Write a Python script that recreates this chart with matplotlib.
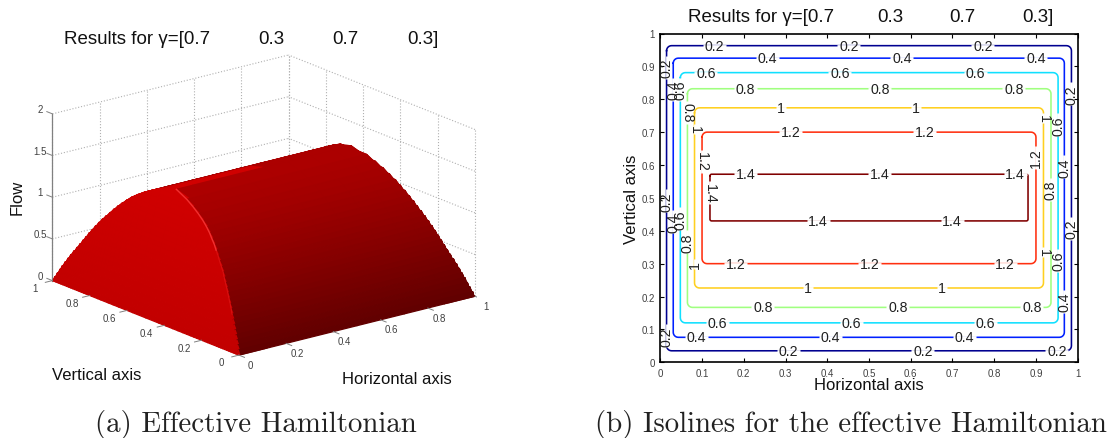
import matplotlib
matplotlib.use('Agg')
import matplotlib.pyplot as plt
import numpy as np
from mpl_toolkits.mplot3d import proj3d

plt.rcParams['font.family'] = ['Liberation Sans', 'DejaVu Sans']

W = 1113
H = 439

# surface profile
height_steps = [0, 0.05, 0.1, 0.15, 0.2, 0.25, 0.3, 0.35, 0.4, 0.45, 0.5, 0.55, 0.6, 0.65, 0.7, 0.75,
                0.8, 0.85, 0.9, 0.95, 1.0, 1.05, 1.1, 1.15, 1.2, 1.25, 1.3, 1.35, 1.4, 1.45]
x_rise = [0, 0.004, 0.008, 0.012, 0.015, 0.019, 0.023, 0.027, 0.031, 0.036, 0.040, 0.044, 0.048, 0.052, 0.056, 0.060,
          0.065, 0.069, 0.073, 0.078, 0.082, 0.087, 0.091, 0.096, 0.100, 0.105, 0.109, 0.114, 0.119, 0.130]
y_rise = [0, 0.008, 0.017, 0.026, 0.035, 0.045, 0.055, 0.065, 0.076, 0.087, 0.098, 0.109, 0.120, 0.131, 0.143, 0.155,
          0.167, 0.181, 0.196, 0.211, 0.226, 0.242, 0.260, 0.279, 0.300, 0.326, 0.355, 0.390, 0.430, 0.500]
x_plateau = [0.2, 0.3, 0.4, 0.5, 0.6, 0.7, 0.8]

x_ticks3d = [0, 0.2, 0.4, 0.6, 0.8, 1]
y_ticks3d = [0, 0.2, 0.4, 0.6, 0.8, 1]
z_ticks3d = [0, 0.5, 1, 1.5, 2]
tick_names3d = ['0', '0.2', '0.4', '0.6', '0.8', '1']
z_names3d = ['0', '0.5', '1', '1.5', '2']

# isolines: level, left, right, bottom, top
levels = [0.2, 0.4, 0.6, 0.8, 1.0, 1.2, 1.4]
level_names = ['0.2', '0.4', '0.6', '0.8', '1', '1.2', '1.4']
left = [0.015, 0.031, 0.048, 0.065, 0.082, 0.100, 0.119]
right = [0.985, 0.968, 0.953, 0.936, 0.918, 0.900, 0.881]
bottom = [0.035, 0.076, 0.120, 0.167, 0.226, 0.300, 0.430]
top = [0.963, 0.925, 0.881, 0.832, 0.774, 0.700, 0.572]
line_colors = ['#000090', '#0020ff', '#10e0ff', '#a0ff80', '#ffd020', '#ff3010', '#800000']
corner_r = [0.012, 0.012, 0.012, 0.012, 0.012, 0.012, 0.004]

# label spots along each side of each isoline, index matches levels
top_labels = [[0.129, 0.452, 0.773], [0.256, 0.579, 0.900], [0.109, 0.430, 0.754], [0.203, 0.526, 0.847],
              [0.289, 0.613], [0.313, 0.634], [0.205, 0.526, 0.850]]
bottom_labels = [[0.306, 0.629, 0.950], [0.086, 0.407, 0.728], [0.136, 0.457, 0.778], [0.246, 0.569, 0.890],
                 [0.354, 0.675], [0.181, 0.502, 0.826], [0.378, 0.699]]
left_labels = [[(0.898, 90), (0.491, 90), (0.080, 90)], [(0.831, 90), (0.427, 90)], [(0.831, 90), (0.436, 90)],
               [(0.761, -90), (0.366, 90)], [(0.710, -90), (0.299, 90)], [(0.612, -90)], [(0.515, -90)]]
right_labels = [[(0.816, 90), (0.408, 90)], [(0.594, 90), (0.186, 90)], [(0.722, 90), (0.311, 90)],
                [(0.527, 90)], [(0.743, -90), (0.335, -90)], [(0.624, 90)], []]

fig = plt.figure(figsize=(W / 100, H / 100), dpi=100)

# ---- left: surface ----
ax3 = fig.add_axes([-0.0184, 0.0171, 0.5, 1.0], projection='3d', proj_type='ortho', computed_zorder=False)
ax3.view_init(elev=18.4, azim=-128.3)
ax3.set_box_aspect((1, 1, 0.584), zoom=1.018)
ax3.set_xlim(0, 1, view_margin=0)
ax3.set_ylim(0, 1, view_margin=0)
ax3.set_zlim(0, 2, view_margin=0)
ax3.set_axis_off()

x_table = np.array(x_rise + x_plateau + [1 - v for v in x_rise[::-1]])
z_x = np.array(height_steps + [height_steps[-1]] * len(x_plateau) + height_steps[::-1])
y_table = np.array(y_rise + [1 - v for v in y_rise[-2::-1]])
z_y = np.array(height_steps + height_steps[-2::-1])
X, Y = np.meshgrid(x_table, y_table)
Z = np.minimum(z_x[None, :], z_y[:, None])

cols = np.zeros(Z.shape + (4,))
cols[..., 3] = 1
nr, nc = Z.shape
for j in range(nr - 1):
    for i in range(nc - 1):
        zm = (Z[j, i] + Z[j + 1, i + 1]) / 2
        if i < nc // 2 and z_x[i] <= z_y[j]:
            r = 0.76 + 0.04 * zm
        else:
            r = 0.38 + 0.30 * zm / 1.45
        cols[j, i, 0] = r

for xv in x_ticks3d:
    ax3.plot([xv, xv], [1, 1], [0, 2], color='#b0b0b0', lw=0.8, ls=':', zorder=1)
for yv in y_ticks3d:
    ax3.plot([1, 1], [yv, yv], [0, 2], color='#b0b0b0', lw=0.8, ls=':', zorder=1)
for zv in z_ticks3d:
    ax3.plot([0, 1], [1, 1], [zv, zv], color='#b0b0b0', lw=0.8, ls=':', zorder=1)
    ax3.plot([1, 1], [0, 1], [zv, zv], color='#b0b0b0', lw=0.8, ls=':', zorder=1)

ax3.plot([0, 0], [1, 1], [0, 2], color='#808080', lw=0.9, zorder=1.5)
surf = ax3.plot_surface(X, Y, Z, facecolors=cols, rstride=1, cstride=1, shade=False,
                        linewidth=0.9, antialiased=True, zorder=2)
surf.set_edgecolor(surf._facecolor3d)

# light catches the crease where the two faces meet
ax3.plot(x_rise[8:21], y_rise[8:21], height_steps[8:21], color='#d81010', lw=0.8, zorder=2.5)
ax3.plot(x_rise[20:], y_rise[20:], height_steps[20:], color='#f03030', lw=1.0, zorder=2.6)


def label3d(x, y, z, s):
    px, py, _ = proj3d.proj_transform(x, y, z, ax3.get_proj())
    ax3.text2D(px, py, s, transform=ax3.transData, fontsize=7, color='#404040',
               ha='center', va='center', zorder=4)


for xv, name in zip(x_ticks3d, tick_names3d):
    ax3.plot([xv, xv], [0, -0.03], [0, 0], color='#808080', lw=0.7, zorder=3)
    label3d(xv, -0.06, -0.06, name)
for yv, name in zip(y_ticks3d, tick_names3d):
    ax3.plot([0, -0.03], [yv, yv], [0, 0], color='#808080', lw=0.7, zorder=3)
    label3d(-0.075, yv, -0.035, name)
for zv, name in zip(z_ticks3d, z_names3d):
    ax3.plot([0, 0], [1, 1.03], [zv, zv], color='#808080', lw=0.7, zorder=3)
    label3d(0, 1.065, zv, name)

# ---- right: isolines ----
ax = fig.add_axes([660.3 / W, 1 - 363.3 / H, 417.4 / W, 328.8 / H])
theta = np.linspace(0, np.pi / 2, 7)
opts = dict(fontsize=10.2, color='#202020', ha='center', va='center', zorder=3)
for k in range(len(levels)):
    r = corner_r[k]
    ry = r * 417.4 / 328.8
    l, rr, b, t = left[k], right[k], bottom[k], top[k]
    xs = np.concatenate([l + r * (1 - np.cos(theta)), rr - r * (1 - np.sin(theta)),
                         rr - r * (1 - np.cos(theta)), l + r * (1 - np.sin(theta)), [l]])
    ys = np.concatenate([t - ry * (1 - np.sin(theta)), t - ry * (1 - np.cos(theta)),
                         b + ry * (1 - np.sin(theta)), b + ry * (1 - np.cos(theta)), [t - ry]])
    ax.plot(xs, ys, color=line_colors[k], lw=1.15, zorder=2)
    # gap in the line under each label, only on its own line
    half = 11.5 if len(level_names[k]) > 1 else 5
    hx = half / 417.4
    hy = half / 328.8
    for v in top_labels[k]:
        ax.plot([v - hx, v + hx], [t, t], color='white', lw=2.0, zorder=2.5, solid_capstyle='butt')
        ax.text(v, t, level_names[k], **opts)
    for v in bottom_labels[k]:
        ax.plot([v - hx, v + hx], [b, b], color='white', lw=2.0, zorder=2.5, solid_capstyle='butt')
        ax.text(v, b, level_names[k], **opts)
    for v, rot in left_labels[k]:
        ax.plot([l, l], [v - hy, v + hy], color='white', lw=2.0, zorder=2.5, solid_capstyle='butt')
        ax.text(l, v, level_names[k], rotation=rot, **opts)
    for v, rot in right_labels[k]:
        ax.plot([rr, rr], [v - hy, v + hy], color='white', lw=2.0, zorder=2.5, solid_capstyle='butt')
        ax.text(rr, v, level_names[k], rotation=rot, **opts)

ax.set_xlim(0, 1)
ax.set_ylim(0, 1)
ticks = np.arange(0, 1.01, 0.1)
names = ['0', '0.1', '0.2', '0.3', '0.4', '0.5', '0.6', '0.7', '0.8', '0.9', '1']
ax.set_xticks(ticks, names)
ax.set_yticks(ticks, names)
ax.tick_params(direction='in', length=3, width=0.8, top=True, right=True, labelsize=7,
               labelcolor='#404040', pad=4)
for s in ax.spines.values():
    s.set_linewidth(1.2)


def px_text(x, y, s, **kw):
    fig.text(x / W, 1 - y / H, s, **kw)


def title_row(x0, x1, x2, x3, y):
    px_text(x0, y, 'Results for γ=[0.7', fontsize=13.5, ha='left', va='center', color='#111111')
    px_text(x1, y, '0.3', fontsize=13.5, ha='left', va='center', color='#111111')
    px_text(x2, y, '0.7', fontsize=13.5, ha='left', va='center', color='#111111')
    px_text(x3, y, '0.3]', fontsize=13.5, ha='left', va='center', color='#111111')


title_row(64, 258, 332, 407, 39)
title_row(688, 877, 949, 1022, 18)

px_text(869, 386, 'Horizontal axis', fontsize=12, ha='center', va='center', color='#111111')
px_text(631, 199, 'Vertical axis', fontsize=12, ha='center', va='center', rotation=90, color='#111111')
px_text(397, 380, 'Horizontal axis', fontsize=12, ha='center', va='center', color='#111111')
px_text(97, 376, 'Vertical axis', fontsize=12, ha='center', va='center', color='#111111')
px_text(17, 197, 'Flow', fontsize=12, ha='center', va='center', rotation=90, color='#111111')

px_text(256, 425, '(a) Effective Hamiltonian', fontsize=20.8, family='cmr10', ha='center', va='center', color='#222222')
px_text(851, 425, '(b) Isolines for the effective Hamiltonian', fontsize=20.8, family='cmr10', ha='center', va='center', color='#222222')

fig.savefig('out.png', dpi=100)
